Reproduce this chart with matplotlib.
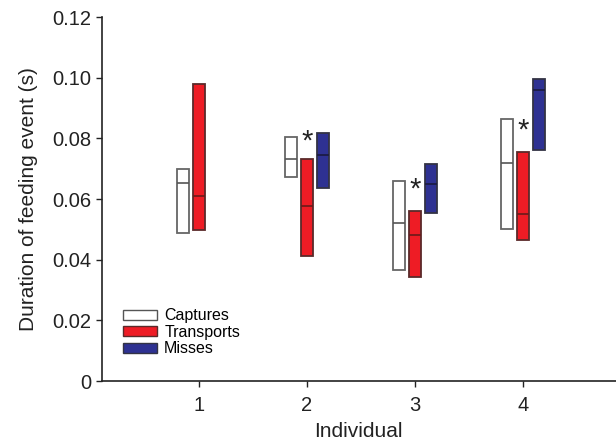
import numpy as np
import matplotlib.pyplot as plt
from matplotlib.patches import Patch

plt.rcParams['font.family'] = ['Liberation Sans', 'DejaVu Sans']

individuals = [1, 2, 3, 4]

# quartile boxes (lower quartile, median, upper quartile) per individual
cap_q1 = [0.0487, 0.0672, 0.0366, 0.0501]
cap_med = [0.0652, 0.0731, 0.0520, 0.0720]
cap_q3 = [0.0698, 0.0806, 0.0660, 0.0865]

tra_q1 = [0.0497, 0.0414, 0.0342, 0.0465]
tra_med = [0.0610, 0.0577, 0.0480, 0.0552]
tra_q3 = [0.0979, 0.0731, 0.0562, 0.0755]

# no misses recorded for individual 1
mis_ind = [2, 3, 4]
mis_q1 = [0.0636, 0.0555, 0.0761]
mis_med = [0.0744, 0.0651, 0.0959]
mis_q3 = [0.0819, 0.0715, 0.0995]

# significance markers
star_ind = [2, 3, 4]
star_y = [0.0810, 0.0651, 0.0844]

fig = plt.figure(figsize=(6.16, 4.41), dpi=100)
ax = fig.add_axes([0.165, 0.136, 0.835, 0.825])

w = 0.11
off = 0.148
x = np.array(individuals, dtype=float)
xm = np.array(mis_ind, dtype=float)


def boxes(xpos, q1, med, q3, face, edge, medcol):
    q1 = np.array(q1)
    q3 = np.array(q3)
    ax.bar(xpos, q3 - q1, bottom=q1, width=w, color=face, edgecolor=edge,
           linewidth=1.3, zorder=2)
    ax.hlines(med, xpos - w / 2, xpos + w / 2, colors=medcol, linewidth=1.2,
              zorder=3)


boxes(x - off, cap_q1, cap_med, cap_q3, 'white', '#666666', '#555555')
boxes(x, tra_q1, tra_med, tra_q3, '#ee1c25', '#5a2a2a', '#6a1a1a')
boxes(xm + off, mis_q1, mis_med, mis_q3, '#2e3192', '#333344', '#1a1a40')

for sx, sy in zip(star_ind, star_y):
    ax.text(sx, sy - 0.0045, '*', ha='center', va='baseline', fontsize=21,
            color='#222222')

ax.set_xlim(0.1, 4.86)
ax.set_ylim(0, 0.12)
ax.set_xticks(individuals)
ax.set_yticks([0, 0.02, 0.04, 0.06, 0.08, 0.10, 0.12])
ax.set_yticklabels(['0', '0.02', '0.04', '0.06', '0.08', '0.10', '0.12'])
ax.tick_params(labelsize=14.5, length=4, width=1, color='#222222',
               labelcolor='#222222')
ax.tick_params(axis='x', pad=7)
ax.spines['top'].set_visible(False)
ax.spines['right'].set_visible(False)
for s in ['left', 'bottom']:
    ax.spines[s].set_linewidth(1.2)
    ax.spines[s].set_color('#222222')

ax.set_xlabel('Individual', fontsize=15, color='#222222', labelpad=5)
ax.set_ylabel('Duration of feeding event (s)', fontsize=15, color='#222222',
              labelpad=10)

handles = [Patch(facecolor='white', edgecolor='#555555', label='Captures'),
           Patch(facecolor='#ee1c25', edgecolor='#5a2a2a', label='Transports'),
           Patch(facecolor='#2e3192', edgecolor='#333344', label='Misses')]
ax.legend(handles=handles, loc='lower left', bbox_to_anchor=(0.03, 0.05),
          frameon=False, fontsize=11.5, handlelength=2.1, handleheight=0.6,
          handletextpad=0.45, labelspacing=0.1, borderaxespad=0)

fig.savefig('out.png', dpi=100)
